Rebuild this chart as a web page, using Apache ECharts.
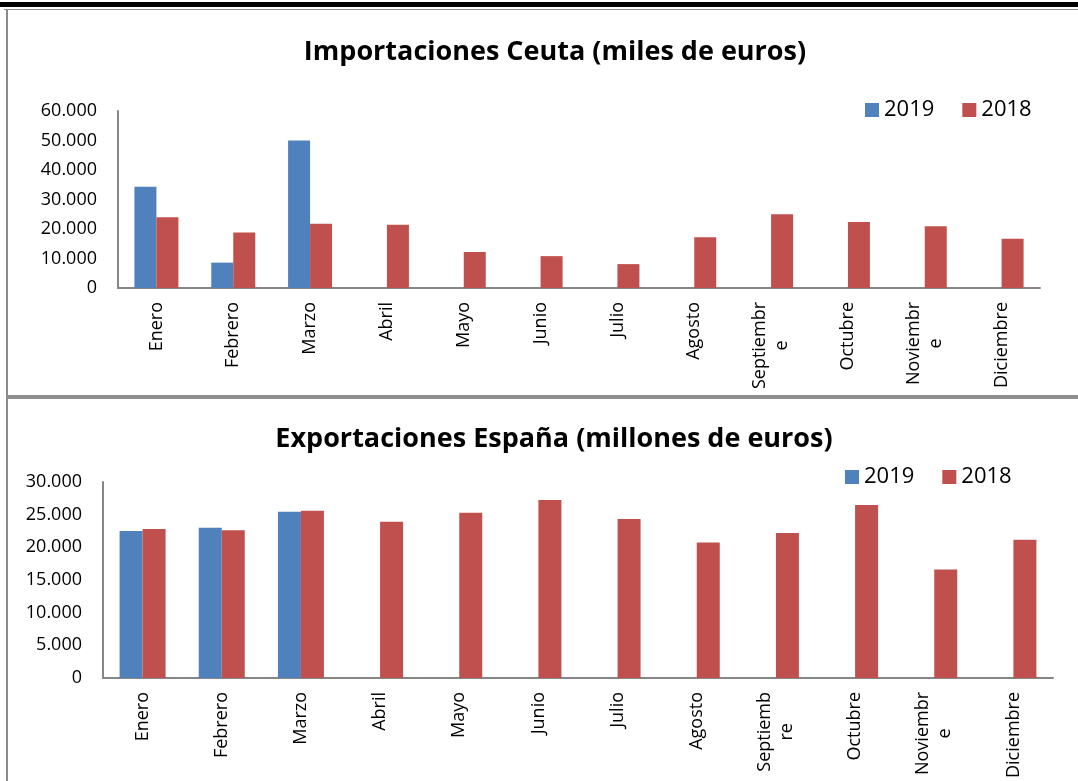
<!DOCTYPE html>
<html>
<head>
<meta charset="utf-8">
<script src="https://cdn.jsdelivr.net/npm/echarts@6/dist/echarts.min.js"></script>
<style>
  html, body { margin: 0; padding: 0; background: #fff; }
  #chart { width: 1078px; height: 781px; }
</style>
</head>
<body>
<div id="chart"></div>
<script>
// months (categories)
const months = ["Enero", "Febrero", "Marzo", "Abril", "Mayo", "Junio", "Julio",
  "Agosto", "Septiembre", "Octubre", "Noviembre", "Diciembre"];

// tick labels as wrapped in the picture
const importLabels = ["Enero", "Febrero", "Marzo", "Abril", "Mayo", "Junio", "Julio",
  "Agosto", "Septiembr\ne", "Octubre", "Noviembr\ne", "Diciembre"];
const exportLabels = ["Enero", "Febrero", "Marzo", "Abril", "Mayo", "Junio", "Julio",
  "Agosto", "Septiemb\nre", "Octubre", "Noviembr\ne", "Diciembre"];

// Importaciones Ceuta (miles de euros)
const import2019 = [34300, 8600, 50000, null, null, null, null, null, null, null, null, null];
const import2018 = [24000, 18800, 21800, 21400, 12200, 10800, 8100, 17200, 25000, 22400, 20900, 16700];

// Exportaciones España (millones de euros)
const export2019 = [22500, 23000, 25450, null, null, null, null, null, null, null, null, null];
const export2018 = [22800, 22600, 25600, 23900, 25300, 27250, 24350, 20750, 22200, 26480, 16590, 21150];

const years = ["2019", "2018"];

const BLUE = "#4F81BD";
const RED = "#C0504D";
const FONT = "Open Sans";
const AXIS_GREY = "#868686";

function thousands(v) {
  return String(v).replace(/\B(?=(\d{3})+(?!\d))/g, ".");
}

function wrapLabel(labels) {
  return (value, idx) => labels[idx].split("\n").map(s => "{c|" + s + "}").join("\n");
}

function xAxisFor(gridIndex, labels) {
  return {
    type: "category",
    gridIndex: gridIndex,
    data: months,
    axisLine: { lineStyle: { color: AXIS_GREY, width: 2 } },
    axisTick: { show: false },
    axisLabel: {
      interval: 0,
      rotate: 90,
      margin: 14,
      color: "#000",
      fontFamily: FONT,
      fontSize: 18,
      formatter: wrapLabel(labels),
      rich: { c: { align: "center", fontFamily: FONT, fontSize: 18, color: "#000", lineHeight: 22 } }
    }
  };
}

function yAxisFor(gridIndex, max, interval) {
  return {
    type: "value",
    gridIndex: gridIndex,
    min: 0,
    max: max,
    interval: interval,
    axisLine: { show: true, lineStyle: { color: AXIS_GREY, width: 2 } },
    axisTick: { show: false },
    splitLine: { show: false },
    axisLabel: {
      margin: 21,
      color: "#000",
      fontFamily: FONT,
      fontSize: 18,
      formatter: thousands
    }
  };
}

function barSeries(name, data, idx, color, width) {
  return {
    name: name,
    type: "bar",
    xAxisIndex: idx,
    yAxisIndex: idx,
    data: data,
    barWidth: width,
    barGap: "0%",
    itemStyle: { color: color },
    emphasis: { disabled: true }
  };
}

const chart = echarts.init(document.getElementById("chart"));

chart.setOption({
  animation: false,
  color: [BLUE, RED],
  title: [
    {
      text: "Importaciones Ceuta (miles de euros)",
      left: 550, top: 34, textAlign: "center",
      textStyle: { fontFamily: FONT, fontWeight: "bold", fontSize: 27, color: "#000" }
    },
    {
      text: "Exportaciones España (millones de euros)",
      left: 549, top: 421, textAlign: "center",
      textStyle: { fontFamily: FONT, fontWeight: "bold", fontSize: 27, color: "#000" }
    }
  ],
  legend: [
    {
      data: years, left: 860, top: 94, itemWidth: 14, itemHeight: 14, itemGap: 28,
      icon: "rect",
      textStyle: { fontFamily: FONT, fontSize: 22, color: "#000" }
    },
    {
      data: years, left: 840, top: 461, itemWidth: 14, itemHeight: 14, itemGap: 28,
      icon: "rect",
      textStyle: { fontFamily: FONT, fontSize: 22, color: "#000" }
    }
  ],
  grid: [
    { left: 118, top: 111, width: 922, height: 177 },
    { left: 103, top: 482, width: 950, height: 197 }
  ],
  xAxis: [xAxisFor(0, importLabels), xAxisFor(1, exportLabels)],
  yAxis: [yAxisFor(0, 60000, 10000), yAxisFor(1, 30000, 5000)],
  series: [
    barSeries("2019", import2019, 0, BLUE, 22),
    barSeries("2018", import2018, 0, RED, 22),
    barSeries("2019", export2019, 1, BLUE, 23),
    barSeries("2018", export2018, 1, RED, 23)
  ],
  graphic: [
    // page frame lines around the two charts
    { type: "rect", left: 0, top: 2, shape: { width: 1078, height: 5 }, style: { fill: "#000" }, silent: true },
    { type: "rect", left: 4, top: 9, shape: { width: 1074, height: 1 }, style: { fill: "#8a8a8a" }, silent: true },
    { type: "rect", left: 6, top: 9, shape: { width: 2, height: 772 }, style: { fill: "#8a8a8a" }, silent: true },
    { type: "rect", left: 6, top: 395, shape: { width: 1072, height: 4 }, style: { fill: "#8f8f8f" }, silent: true }
  ]
});

window.addEventListener("resize", () => {
  if (chart) {
    chart.resize();
  }
});
</script>
</body>
</html>
